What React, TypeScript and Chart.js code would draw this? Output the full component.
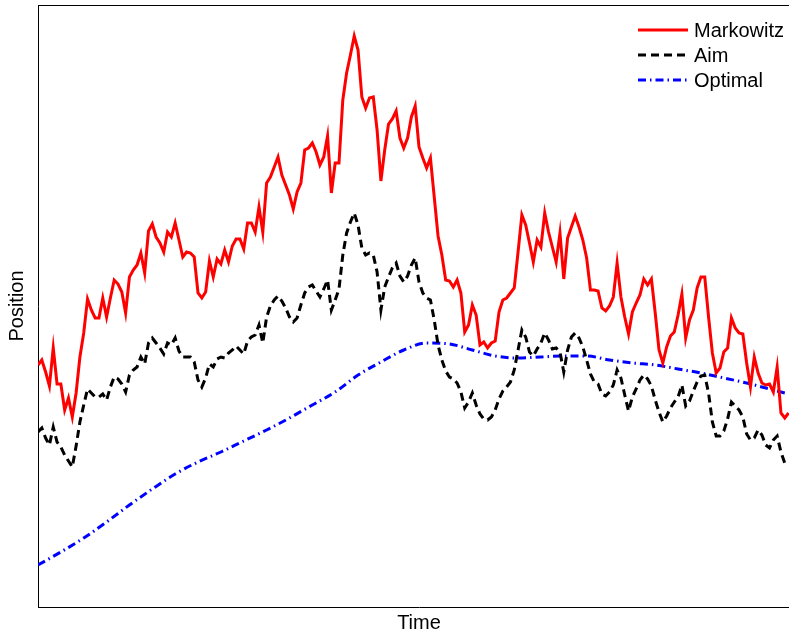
import React, { useEffect, useRef } from "react";
import { Chart, registerables } from "chart.js";

Chart.register(...registerables);

// Series values (arbitrary position units), one value per time step
const MARKOWITZ = [
  24.2, 24.7, 23.5, 22.1, 25.9, 22.3, 22.3, 19.7, 20.9, 19.0,
  21.4, 25.0, 27.4, 30.8, 29.7, 28.9, 28.9, 30.9, 29.0, 30.9,
  32.7, 32.3, 31.5, 29.4, 33.0, 33.7, 34.2, 35.4, 33.4, 37.6,
  38.3, 37.0, 36.4, 35.5, 37.5, 37.0, 38.4, 36.7, 35.0, 35.5,
  35.4, 35.0, 31.4, 30.9, 31.5, 34.6, 33.0, 34.8, 34.3, 35.7,
  34.5, 36.1, 36.8, 36.8, 35.8, 38.4, 38.4, 37.5, 40.0, 37.5,
  42.4, 43.0, 44.0, 45.0, 43.2, 42.2, 41.2, 39.8, 41.5, 42.4,
  45.7, 45.9, 46.4, 45.5, 44.2, 45.0, 47.1, 41.4, 44.4, 44.4,
  50.7, 53.4, 55.2, 57.1, 55.7, 51.0, 49.9, 50.9, 51.0, 47.7,
  42.6, 45.7, 48.3, 48.8, 49.6, 46.9, 45.9, 46.9, 49.0, 50.1,
  46.0, 44.9, 43.9, 44.9, 41.0, 37.1, 35.2, 32.7, 32.6, 32.0,
  32.7, 31.4, 27.5, 28.2, 30.2, 29.2, 26.2, 26.5, 25.9, 26.4,
  26.6, 29.5, 30.7, 30.9, 31.4, 31.9, 35.5, 39.2, 38.2, 36.4,
  34.5, 36.7, 36.0, 39.4, 37.5, 36.0, 34.5, 37.4, 32.8, 36.9,
  38.0, 39.1, 38.0, 36.7, 34.9, 31.7, 31.7, 31.6, 29.9, 29.6,
  30.1, 31.0, 34.4, 31.0, 29.0, 27.3, 29.5, 30.4, 31.2, 32.8,
  32.2, 32.8, 29.4, 25.7, 24.4, 26.0, 27.1, 27.5, 29.2, 31.3,
  26.9, 28.7, 29.7, 31.9, 33.0, 33.0, 29.0, 25.4, 23.4, 23.9,
  25.5, 25.9, 28.9, 27.9, 27.4, 27.3, 24.4, 22.0, 25.0, 23.4,
  22.4, 22.2, 22.3, 21.5, 24.0, 19.4, 18.9, 19.4,
];

const AIM = [
  17.5, 17.9, 16.9, 16.2, 18.0, 16.5, 16.0, 15.2, 14.6, 14.0,
  16.1, 18.5, 20.2, 21.8, 21.4, 21.0, 21.0, 21.3, 20.7, 22.0,
  23.0, 22.8, 22.3, 21.5, 23.2, 23.7, 24.0, 25.0, 24.3, 26.4,
  26.9, 26.4, 25.9, 25.3, 26.4, 26.2, 26.9, 25.6, 25.0, 25.0,
  25.0, 24.5, 22.7, 22.0, 22.9, 24.3, 24.0, 24.8, 25.0, 24.9,
  25.4, 25.7, 26.1, 25.7, 25.3, 26.6, 27.0, 27.2, 28.2, 26.4,
  29.0, 30.1, 30.7, 31.1, 30.6, 29.9, 29.0, 28.5, 28.9, 30.2,
  31.4, 32.0, 32.2, 31.6, 31.0, 31.8, 32.7, 29.7, 30.7, 31.8,
  35.2, 37.4, 38.5, 39.4, 38.2, 35.9, 35.2, 35.4, 35.2, 33.5,
  29.7, 32.0, 33.0, 33.9, 34.4, 33.1, 32.5, 33.1, 34.2, 34.9,
  32.5, 31.4, 30.9, 30.7, 28.7, 26.2, 24.7, 23.6, 23.0, 22.8,
  22.4, 21.5, 19.9, 20.5, 21.4, 20.2, 19.3, 18.8, 18.7, 19.0,
  19.7, 20.8, 21.6, 22.0, 22.5, 23.7, 25.7, 27.7, 27.0, 25.5,
  25.1, 25.8, 26.4, 27.4, 26.7, 25.8, 25.9, 25.5, 23.5, 25.7,
  27.0, 27.4, 26.9, 26.0, 24.7, 23.3, 22.5, 22.3, 21.3, 21.1,
  21.5, 22.2, 23.7, 22.9, 21.2, 19.6, 21.0, 21.8, 22.7, 23.2,
  22.8, 22.1, 20.7, 19.5, 18.5, 19.1, 19.9, 20.5, 21.0, 22.2,
  20.1, 20.6, 21.6, 22.5, 23.1, 23.2, 21.4, 18.5, 17.1, 17.1,
  17.6, 18.8, 20.5, 20.1, 19.7, 19.0, 17.3, 16.7, 16.9, 17.7,
  17.2, 16.2, 15.9, 16.7, 17.1, 15.5, 14.4, 14.3,
];

// Optimal path is smooth: read at every sixth time step
const OPTIMAL_T = [
  0, 6, 12, 18, 24, 30, 36, 42, 48, 54, 60, 66, 72, 78, 84, 90, 96,
  102, 108, 114, 120, 126, 132, 138, 144, 150, 156, 162, 168, 174,
  180, 186, 192, 197,
];
const OPTIMAL = [
  4.2, 5.5, 6.9, 8.5, 10.2, 11.8, 13.3, 14.5, 15.5, 16.6, 17.7, 18.9,
  20.2, 21.5, 23.2, 24.5, 25.7, 26.4, 26.3, 25.7, 25.1, 24.9, 25.0,
  25.1, 25.1, 24.7, 24.4, 24.2, 23.8, 23.4, 22.9, 22.4, 21.8, 21.3,
];

const SERIES_NAMES = ["Markowitz", "Aim", "Optimal"];
const X_TITLE = "Time";
const Y_TITLE = "Position";
const X_RANGE = [0, 200];
const Y_RANGE = [0, 60.2];

const FONT = '"Liberation Sans", Arial, Helvetica, sans-serif';

export default function App() {
  const canvasRef = useRef<HTMLCanvasElement | null>(null);

  useEffect(() => {
    const canvas = canvasRef.current;
    if (!canvas) return;

    const frameAndLegend = {
      id: "frameAndLegend",
      afterDraw(chart: any) {
        const { ctx, chartArea } = chart;
        ctx.save();
        // top frame line
        ctx.strokeStyle = "#000";
        ctx.lineWidth = 1;
        ctx.setLineDash([]);
        ctx.beginPath();
        ctx.moveTo(chartArea.left, chartArea.top + 0.5);
        ctx.lineTo(chartArea.right, chartArea.top + 0.5);
        ctx.stroke();

        // legend in the upper right of the plot
        const x0 = chartArea.left + 600;
        chart.data.datasets.forEach((ds: any, i: number) => {
          const y = chartArea.top + 25 + i * 25;
          ctx.save();
          ctx.setLineDash(ds.borderDash || []);
          ctx.strokeStyle = ds.borderColor;
          ctx.lineWidth = ds.borderWidth;
          ctx.lineCap = "butt";
          ctx.beginPath();
          ctx.moveTo(x0, y);
          ctx.lineTo(x0 + 50, y);
          ctx.stroke();
          ctx.restore();
          ctx.fillStyle = "#000";
          ctx.font = `20px ${FONT}`;
          ctx.textBaseline = "middle";
          ctx.textAlign = "left";
          ctx.fillText(ds.label, x0 + 56, y + 1);
        });
        ctx.restore();
      },
    };

    const chart = new Chart(canvas, {
      type: "line",
      data: {
        datasets: [
          {
            label: SERIES_NAMES[0],
            data: MARKOWITZ.map((y, t) => ({ x: t, y })),
            borderColor: "#ff0000",
            borderWidth: 3,
            pointRadius: 0,
            tension: 0,
            fill: false,
          },
          {
            label: SERIES_NAMES[1],
            data: AIM.map((y, t) => ({ x: t, y })),
            borderColor: "#000000",
            borderWidth: 3,
            borderDash: [8, 5],
            pointRadius: 0,
            tension: 0,
            fill: false,
          },
          {
            label: SERIES_NAMES[2],
            data: OPTIMAL.map((y, i) => ({ x: OPTIMAL_T[i], y })),
            borderColor: "#0000ff",
            borderWidth: 3,
            borderDash: [8, 4, 1.5, 4],
            pointRadius: 0,
            cubicInterpolationMode: "monotone",
            fill: false,
          },
        ],
      },
      options: {
        animation: false,
        responsive: false,
        maintainAspectRatio: false,
        devicePixelRatio: 1,
        layout: { autoPadding: false, padding: { top: 5, left: 0, right: 0, bottom: 0 } },
        plugins: {
          legend: { display: false },
          tooltip: { enabled: false },
        },
        scales: {
          x: {
            type: "linear",
            min: X_RANGE[0],
            max: X_RANGE[1],
            ticks: { display: false },
            grid: { display: false, drawTicks: false },
            border: { display: true, color: "#000", width: 1 },
            title: {
              display: true,
              text: X_TITLE,
              color: "#000",
              font: { family: FONT, size: 20 },
              padding: { top: 4, bottom: 0 },
            },
          },
          y: {
            type: "linear",
            min: Y_RANGE[0],
            max: Y_RANGE[1],
            ticks: { display: false },
            grid: { display: false, drawTicks: false },
            border: { display: true, color: "#000", width: 1 },
            title: {
              display: true,
              text: Y_TITLE,
              color: "#000",
              font: { family: FONT, size: 20 },
              padding: { top: 5, bottom: 9 },
            },
          },
        },
      },
      plugins: [frameAndLegend],
    });

    return () => chart.destroy();
  }, []);

  return (
    <div
      style={{
        position: "fixed",
        left: 0,
        top: 0,
        width: 789,
        height: 635,
        overflow: "hidden",
        background: "#fff",
      }}
    >
      <canvas ref={canvasRef} width={800} height={635} style={{ display: "block" }} />
    </div>
  );
}
